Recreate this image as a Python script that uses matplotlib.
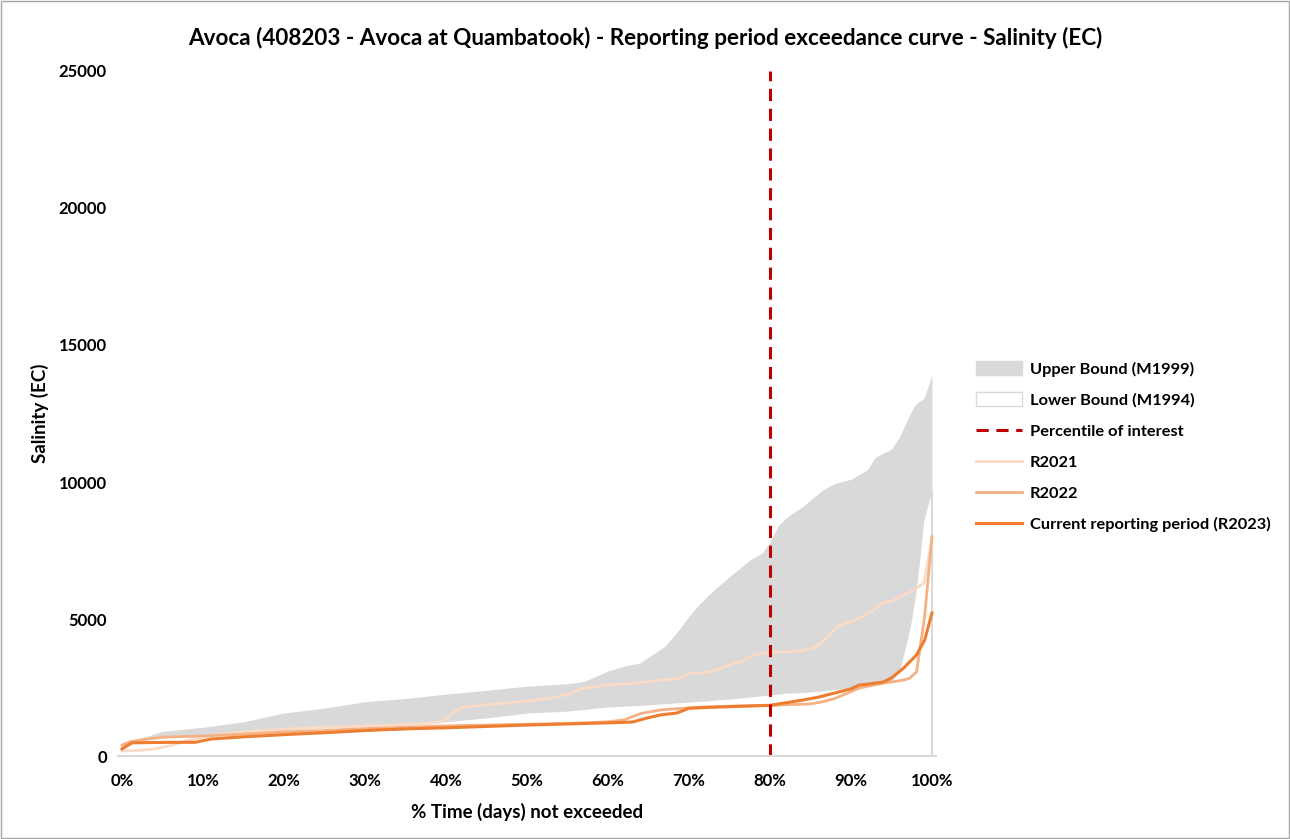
import matplotlib
matplotlib.use("Agg")
import matplotlib.pyplot as plt
from matplotlib.patches import Patch, Rectangle
from matplotlib.lines import Line2D
from matplotlib.ticker import PercentFormatter

plt.rcParams['font.family'] = ['Lato', 'DejaVu Sans']
plt.rcParams['font.weight'] = 'bold'

# percentile grid shared by the bounds (% of time not exceeded)
bound_pct = [0, 2, 5, 10, 15, 20, 25, 30, 35, 40, 45, 50, 55, 57, 60, 62, 64, 65, 66, 67,
             68, 69, 70, 71, 72, 73.5, 75, 77.5, 79, 80, 81, 82, 84, 85, 86.5, 88, 90, 92,
             93, 95, 96, 97, 97.5, 98, 98.5, 99, 100]
upper_m1999 = [400, 620, 900, 1050, 1250, 1570, 1750, 1980, 2100, 2260, 2400, 2550, 2640,
               2720, 3100, 3280, 3400, 3610, 3800, 4000, 4340, 4700, 5100, 5450, 5750, 6170,
               6540, 7150, 7400, 7800, 8400, 8700, 9090, 9340, 9710, 9950, 10100, 10440,
               10900, 11200, 11650, 12300, 12600, 12850, 12950, 13050, 13900]
lower_m1994 = [300, 550, 650, 780, 880, 950, 1020, 1100, 1180, 1250, 1390, 1570, 1640, 1700,
               1790, 1820, 1850, 1870, 1890, 1910, 1930, 1950, 1970, 1990, 2010, 2050, 2080,
               2150, 2200, 2230, 2260, 2290, 2320, 2340, 2380, 2420, 2480, 2560, 2610, 2720,
               3100, 4300, 5000, 5900, 7200, 8600, 9700]

r2021_pct = [0, 2, 4, 6, 8, 10, 13, 16, 20, 25, 30, 35, 38, 39.5, 41, 42, 45, 50, 53, 55, 57,
             60, 63, 65, 67, 69, 70, 72, 74, 75, 76.5, 78, 80, 82, 84, 85.5, 87, 88.5, 90,
             91.5, 93, 94, 95, 96, 97.3, 99, 100]
r2021 = [180, 200, 260, 380, 560, 700, 820, 900, 980, 1050, 1100, 1150, 1200, 1250, 1600,
         1780, 1870, 2000, 2120, 2250, 2480, 2590, 2650, 2720, 2780, 2850, 3000, 3050, 3200,
         3320, 3450, 3700, 3780, 3800, 3850, 3950, 4300, 4750, 4900, 5100, 5350, 5600, 5650,
         5800, 5990, 6300, 7900]

r2022_pct = [0, 1, 2.5, 5, 10, 15, 20, 25, 30, 35, 40, 45, 50, 55, 58, 60, 62, 64, 66.5, 69.5,
             72, 75, 80, 85, 86.5, 88, 90, 91, 93, 94, 96.5, 97.3, 98.1, 99.1, 100]
r2022 = [400, 520, 600, 690, 730, 800, 880, 930, 1000, 1050, 1100, 1130, 1160, 1190, 1220,
         1250, 1320, 1550, 1680, 1750, 1790, 1820, 1850, 1900, 1980, 2100, 2350, 2480, 2600,
         2660, 2770, 2850, 3070, 5100, 8000]

r2023_pct = [0, 1.2, 3, 6, 9, 11, 15, 20, 25, 30, 35, 40, 45, 50, 55, 60, 63, 65, 66.5, 68.5,
             70, 72, 75, 80, 84, 86, 88, 90, 91, 92, 94, 95, 96.5, 98.1, 99.1, 100]
r2023 = [260, 480, 490, 500, 500, 620, 700, 780, 850, 930, 990, 1030, 1080, 1130, 1170, 1210,
         1240, 1400, 1500, 1570, 1740, 1770, 1800, 1850, 2040, 2150, 2300, 2450, 2590, 2620,
         2700, 2850, 3210, 3690, 4230, 5220]

percentile_of_interest = 80

GREY = '#D9D9D9'
C2021 = '#FADBC6'
C2022 = '#F4B183'
C2023 = '#ED7D31'
RED = '#C00000'

fig = plt.figure(figsize=(12.9, 8.39), dpi=100)
ax = fig.add_axes([118 / 1290, 0.0989, 818 / 1290, 0.8165])

ax.fill_between(bound_pct, lower_m1994, upper_m1999, color=GREY, lw=0)
# edge of the white lower-bound area at the right end
ax.vlines(bound_pct[-1], 0, lower_m1994[-1], color=GREY, lw=1.5)

ax.plot(r2021_pct, r2021, color=C2021, lw=2)
ax.plot(r2022_pct, r2022, color=C2022, lw=2)
ax.plot(r2023_pct, r2023, color=C2023, lw=2.2)
ax.vlines(percentile_of_interest, 0, 25000, color=RED, lw=2.2, linestyles=(0, (4, 2.5)))

ax.set_xlim(-0.5, 100.5)
ax.set_ylim(0, 25000)
ax.set_xticks(range(0, 101, 10))
ax.xaxis.set_major_formatter(PercentFormatter(decimals=0))
ax.set_yticks(range(0, 25001, 5000))
ax.tick_params(axis='x', length=0, labelsize=12, pad=12)
ax.tick_params(axis='y', length=0, labelsize=12, pad=8)
for lab in ax.get_xticklabels() + ax.get_yticklabels():
    lab.set_fontweight('bold')
for s in ['top', 'right', 'left']:
    ax.spines[s].set_visible(False)
ax.spines['bottom'].set_color(GREY)
ax.spines['bottom'].set_linewidth(1.5)

ax.set_xlabel('% Time (days) not exceeded', fontsize=13.5, fontweight='bold', labelpad=10)
ax.set_ylabel('Salinity (EC)', fontsize=13.5, fontweight='bold', labelpad=7)
fig.suptitle('Avoca (408203 - Avoca at Quambatook) - Reporting period exceedance curve - Salinity (EC)',
             x=0.5, y=0.968, fontsize=16.2, fontweight='bold')

handles = [
    Patch(facecolor=GREY, edgecolor=GREY),
    Patch(facecolor='white', edgecolor=GREY),
    Line2D([], [], color=RED, lw=2.2, ls=(0, (4, 2.5))),
    Line2D([], [], color=C2021, lw=2),
    Line2D([], [], color=C2022, lw=2),
    Line2D([], [], color=C2023, lw=2.2),
]
labels = ['Upper Bound (M1999)', 'Lower Bound (M1994)', 'Percentile of interest',
          'R2021', 'R2022', 'Current reporting period (R2023)']
fig.legend(handles, labels, loc='upper left', bbox_to_anchor=(0.745, 0.587), frameon=False,
           prop={'size': 11.8, 'weight': 'bold'}, handlelength=2.8, handleheight=0.9,
           labelspacing=0.95, handletextpad=0.5)

fig.add_artist(Rectangle((0.001, 0.001), 0.998, 0.998, transform=fig.transFigure,
                         fill=False, edgecolor='#A6A6A6', lw=1))

fig.savefig('out.png', dpi=100)
